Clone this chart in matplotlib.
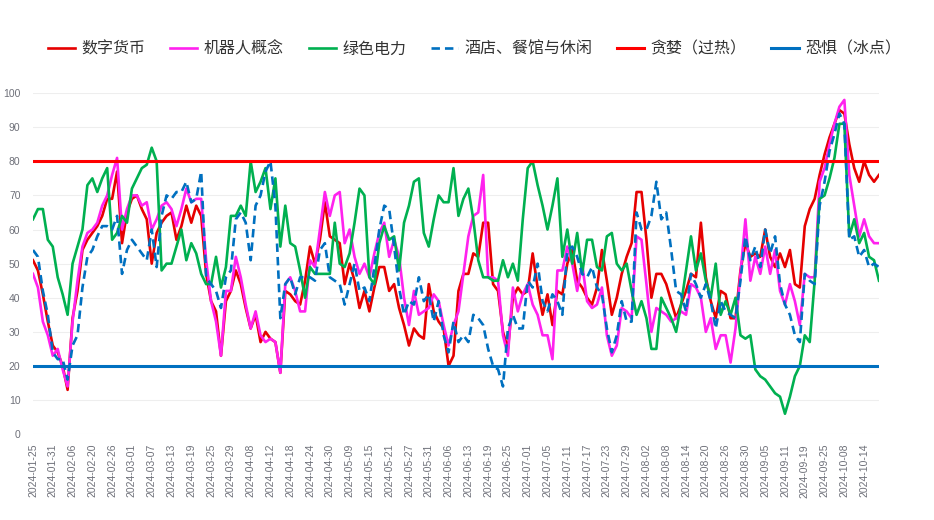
import pandas as pd
import matplotlib
matplotlib.use('Agg')
import matplotlib.pyplot as plt

plt.rcParams['font.family'] = ['Noto Sans CJK SC', 'DejaVu Sans']

# 交易日（去掉节假日）
holidays = ['2024-02-09', '2024-02-12', '2024-02-13', '2024-02-14', '2024-02-15', '2024-02-16',
            '2024-04-04', '2024-04-05', '2024-05-01', '2024-05-02', '2024-05-03', '2024-06-10',
            '2024-09-16', '2024-09-17', '2024-10-01', '2024-10-02', '2024-10-03', '2024-10-04',
            '2024-10-07']
days = pd.bdate_range('2024-01-25', '2024-10-17')
days = [d.strftime('%Y-%m-%d') for d in days if d.strftime('%Y-%m-%d') not in holidays]

digital = [51, 48, 41, 33, 26, 24, 20, 13, 34, 42,
           54, 57, 59, 61, 64, 69, 69, 77, 56, 65,
           69, 70, 66, 63, 50, 59, 62, 64, 65, 57,
           61, 67, 62, 67, 64, 47, 39, 36, 23, 39,
           42, 48, 44, 37, 31, 35, 27, 30, 28, 27,
           18, 42, 41, 39, 38, 45, 55, 50, 57, 68,
           58, 57, 56, 44, 50, 45, 37, 42, 36, 43,
           49, 49, 42, 44, 37, 32, 26, 31, 29, 28,
           44, 36, 33, 31, 20, 23, 42, 47, 47, 53,
           52, 62, 62, 44, 42, 30, 25, 40, 43, 41,
           42, 53, 43, 35, 41, 32, 42, 41, 50, 54,
           45, 43, 40, 38, 43, 54, 45, 35, 40, 47,
           52, 56, 71, 71, 57, 40, 47, 47, 44, 39,
           34, 38, 42, 47, 46, 62, 46, 39, 34, 42,
           41, 34, 34, 48, 56, 52, 53, 52, 60, 52,
           49, 53, 49, 54, 44, 43, 61, 66, 69, 76,
           82, 87, 91, 95, 94, 85, 78, 74, 80, 76, 74, 76]

robot = [47, 43, 33, 29, 23, 25, 19, 14, 33, 45,
         55, 59, 60, 62, 67, 70, 76, 81, 60, 66,
         70, 70, 67, 68, 60, 63, 67, 68, 66, 61,
         66, 72, 68, 69, 69, 51, 39, 33, 23, 42,
         42, 52, 46, 38, 31, 36, 29, 27, 28, 27,
         18, 44, 46, 42, 36, 36, 51, 49, 60, 71,
         64, 70, 71, 56, 60, 52, 47, 50, 46, 53,
         59, 62, 52, 57, 52, 40, 32, 42, 35, 36,
         37, 41, 39, 32, 26, 32, 36, 47, 58, 64,
         65, 76, 46, 46, 45, 29, 23, 43, 36, 41,
         44, 38, 35, 29, 29, 22, 48, 48, 55, 50,
         42, 50, 39, 37, 38, 43, 29, 23, 26, 37,
         36, 34, 58, 57, 44, 30, 37, 36, 35, 33,
         34, 36, 35, 44, 43, 40, 30, 34, 25, 29,
         29, 21, 31, 47, 63, 45, 52, 47, 55, 47,
         54, 42, 38, 44, 39, 32, 47, 46, 46, 74,
         78, 85, 91, 96, 98, 76, 67, 58, 63, 58, 56, 56]

green = [63, 66, 66, 57, 55, 46, 41, 35, 50, 55,
         60, 73, 75, 71, 75, 78, 57, 59, 64, 62,
         72, 75, 78, 79, 84, 80, 48, 50, 50, 55,
         60, 51, 56, 53, 47, 44, 44, 52, 43, 49,
         64, 64, 67, 64, 80, 71, 74, 78, 66, 75,
         55, 67, 56, 55, 48, 40, 49, 47, 47, 47,
         47, 62, 50, 49, 53, 62, 72, 70, 46, 44,
         56, 61, 57, 58, 48, 62, 67, 74, 75, 59,
         55, 63, 70, 68, 68, 78, 64, 69, 72, 63,
         51, 46, 46, 45, 45, 51, 46, 50, 45, 63,
         78, 80, 73, 67, 60, 67, 75, 52, 60, 50,
         59, 47, 57, 57, 49, 48, 58, 59, 50, 48,
         50, 42, 35, 39, 34, 25, 25, 40, 37, 34,
         30, 38, 48, 58, 48, 53, 45, 40, 50, 35,
         39, 35, 40, 29, 28, 29, 19, 17, 16, 14,
         12, 11, 6, 11, 17, 20, 29, 27, 45, 69,
         70, 75, 81, 91, 91, 58, 63, 56, 59, 52, 51, 45]

hotel = [54, 52, 42, 35, 24, 22, 22, 16, 26, 29,
         43, 52, 54, 58, 61, 61, 60, 64, 47, 54,
         57, 55, 53, 51, 60, 49, 64, 70, 69, 71,
         71, 74, 68, 69, 77, 46, 44, 42, 37, 46,
         48, 63, 65, 62, 51, 67, 70, 77, 80, 67,
         34, 44, 46, 41, 46, 46, 46, 45, 54, 56,
         46, 45, 44, 38, 44, 50, 42, 43, 39, 49,
         60, 67, 66, 55, 43, 35, 39, 38, 46, 39,
         41, 33, 39, 29, 24, 33, 27, 29, 27, 35,
         34, 32, 25, 20, 19, 14, 31, 35, 31, 31,
         45, 43, 50, 39, 36, 41, 39, 35, 54, 55,
         52, 47, 46, 49, 43, 41, 31, 24, 29, 39,
         33, 33, 65, 60, 60, 64, 74, 63, 65, 54,
         42, 41, 36, 47, 44, 40, 44, 39, 31, 39,
         36, 35, 34, 45, 58, 51, 55, 49, 60, 53,
         58, 44, 38, 35, 29, 27, 47, 45, 44, 67,
         74, 83, 88, 94, 91, 57, 58, 52, 54, 49, 50, 49]

greed_level = 80
fear_level = 20

x = list(range(len(days)))

fig = plt.figure(figsize=(9.34, 5.2), dpi=100)
ax = fig.add_axes([0.0353, 0.165, 0.9058, 0.656])

ax.plot(x, digital, color='#e60000', lw=1.9, label='数字货币')
ax.plot(x, robot, color='#ff22ee', lw=1.9, label='机器人概念')
ax.plot(x, green, color='#00b050', lw=1.9, label='绿色电力')
ax.plot(x, hotel, color='#0070c0', lw=1.9, ls=(0, (3.2, 1.9)), label='酒店、餐馆与休闲')
ax.plot(x, [greed_level] * len(x), color='#ff0000', lw=2.2, label='贪婪（过热）')
ax.plot(x, [fear_level] * len(x), color='#0070c0', lw=2.2, label='恐惧（冰点）')

ax.set_xlim(0, len(x) - 1)
ax.set_ylim(0, 100)
ax.set_yticks(range(0, 101, 10))
ax.set_xticks(x[::4])
ax.set_xticklabels(days[::4], rotation=90, fontsize=7.5, color='#6e7079', family='Liberation Sans')
for t in ax.get_yticklabels():
    t.set_fontsize(7.5)
    t.set_color('#6e7079')
    t.set_family('Liberation Sans')
ax.tick_params(axis='both', length=0)
ax.tick_params(axis='x', pad=7)
ax.tick_params(axis='y', pad=9)
ax.grid(axis='y', color='#eeeeee', lw=0.8)
ax.set_axisbelow(True)
for s in ax.spines.values():
    s.set_visible(False)

fig.legend(loc='center', bbox_to_anchor=(0.508, 0.905), ncol=6, frameon=False,
           fontsize=11.5, handlelength=1.7, handletextpad=0.4, columnspacing=1.55,
           labelcolor='#333333')

fig.savefig('out.png', dpi=100)
